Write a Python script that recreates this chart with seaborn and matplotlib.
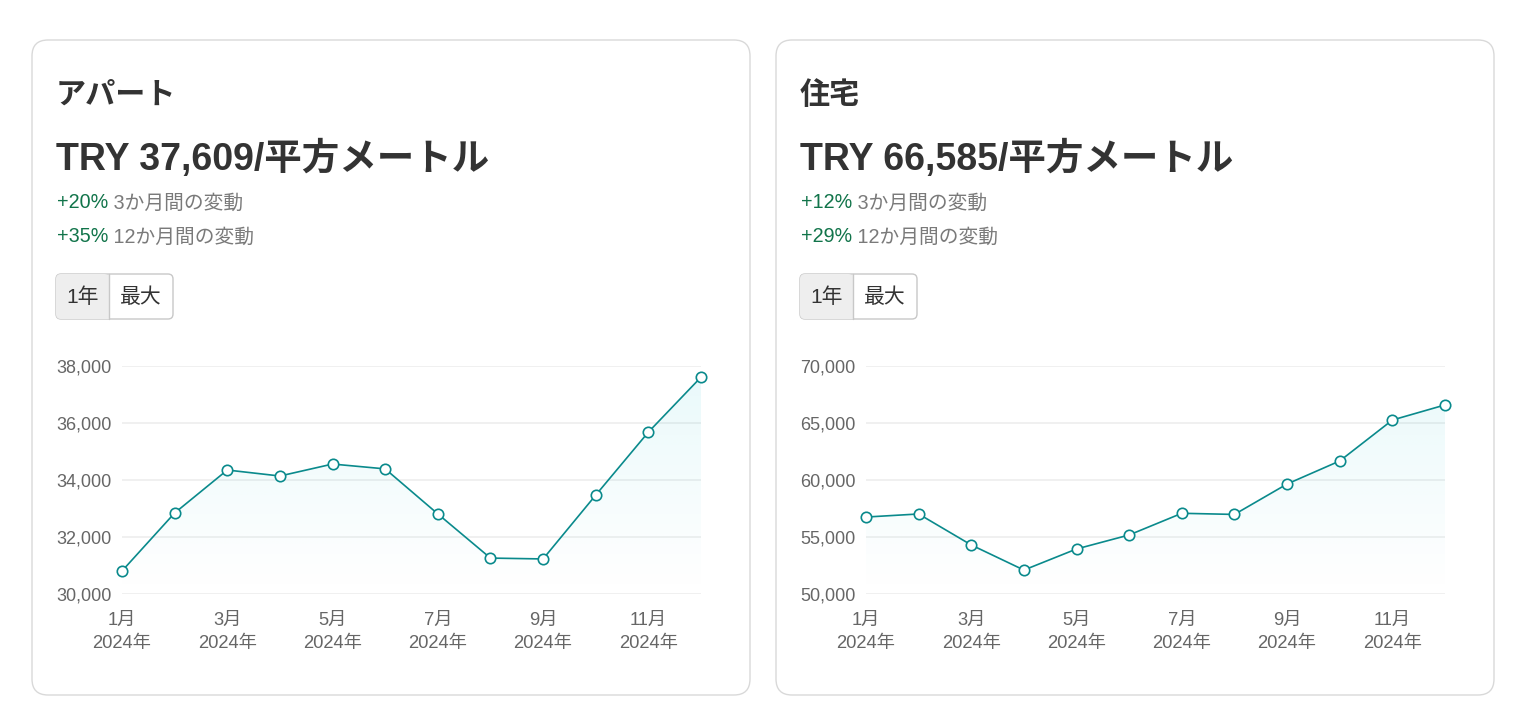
import numpy as np
import pandas as pd
import matplotlib
matplotlib.use("Agg")
import matplotlib.pyplot as plt
from matplotlib.patches import FancyBboxPatch, Rectangle
import seaborn as sns

# ---------------- data ----------------
months = ["1月", "2月", "3月", "4月", "5月", "6月", "7月", "8月", "9月", "10月", "11月", "12月"]
year_label = "2024年"
apartment_prices = [30807, 32842, 34350, 34140, 34560, 34390, 32810, 31260, 31230, 33470, 35680, 37609]
house_prices = [56750, 57020, 54300, 52100, 53950, 55180, 57080, 56980, 59650, 61670, 65260, 66585]

titles = ["アパート", "住宅"]
headline = ["TRY 37,609/平方メートル", "TRY 66,585/平方メートル"]
change_3m = ["+20%", "+12%"]
change_12m = ["+35%", "+29%"]
change_3m_text = "3か月間の変動"
change_12m_text = "12か月間の変動"
buttons = ["1年", "最大"]
apt_yticks = [30000, 32000, 34000, 36000, 38000]
house_yticks = [50000, 55000, 60000, 65000, 70000]

# ---------------- style ----------------
sns.set_theme(style="white")
FONTS = ["Liberation Sans", "Noto Sans CJK JP", "DejaVu Sans"]
plt.rcParams["font.family"] = FONTS

W, H = 1521, 723
fig = plt.figure(figsize=(W / 100, H / 100), dpi=100)
fig.patch.set_facecolor("white")

bg = fig.add_axes([0, 0, 1, 1])
bg.set_xlim(0, W)
bg.set_ylim(H, 0)
bg.axis("off")

TEAL = "#0a8a8c"
DARK = "#333333"
GREEN = "#11744a"
GRAY = "#7a7a7a"
TICK = "#666666"

def px_axes(x0, y0, x1, y1):
    return fig.add_axes([x0 / W, 1 - y1 / H, (x1 - x0) / W, (y1 - y0) / H])

datasets = [apartment_prices, house_prices]
yticks_list = [apt_yticks, house_yticks]

for i in range(2):
    off = 744 * i
    # card
    card = FancyBboxPatch((32 + off, 40), 718, 655,
                          boxstyle="round,pad=0,rounding_size=16",
                          fc="white", ec="#d9d9d9", lw=1.0, zorder=1)
    bg.add_patch(card)
    # title
    bg.text(56 + off, 95.5, titles[i], fontsize=21.7, fontweight="bold",
            color=DARK, va="center", ha="left", zorder=3)
    bg.text(56 + off, 159, headline[i], fontsize=27, fontweight="bold",
            color=DARK, va="center", ha="left", zorder=3)
    # change lines
    t1 = bg.text(57 + off, 203, change_3m[i], fontsize=14.2, color=GREEN,
                 va="center", ha="left", zorder=3)
    bg.annotate(" " + change_3m_text, xycoords=t1, xy=(1, 0.5), va="center",
                ha="left", fontsize=14.2, color=GRAY, zorder=3)
    t2 = bg.text(57 + off, 237, change_12m[i], fontsize=14.2, color=GREEN,
                 va="center", ha="left", zorder=3)
    bg.annotate(" " + change_12m_text, xycoords=t2, xy=(1, 0.5), va="center",
                ha="left", fontsize=14.2, color=GRAY, zorder=3)
    # buttons
    btn = FancyBboxPatch((56 + off, 274), 117, 45,
                         boxstyle="round,pad=0,rounding_size=5",
                         fc="white", ec="#c8c8c8", lw=1.0, zorder=2)
    bg.add_patch(btn)
    sel = FancyBboxPatch((56 + off, 274), 53, 45,
                         boxstyle="round,pad=0,rounding_size=5",
                         fc="#eeeeee", ec="none", lw=0, zorder=2.1)
    bg.add_patch(sel)
    bg.add_patch(Rectangle((100 + off, 274.5), 9, 44, fc="#eeeeee", ec="none", zorder=2.2))
    bg.plot([109 + off, 109 + off], [274, 319], color="#c8c8c8", lw=1.0, zorder=2.3)
    bg.text(83 + off, 297, buttons[0], fontsize=15, color=DARK, ha="center",
            va="center", zorder=3)
    bg.text(141 + off, 297, buttons[1], fontsize=15, color=DARK, ha="center",
            va="center", zorder=3)

    # chart
    ax = px_axes(122 + off, 366, 701 + off, 594)
    ax.set_facecolor("none")
    vals = datasets[i]
    yt = yticks_list[i]
    df = pd.DataFrame({"pos": np.arange(len(months)), "price": vals})
    ymin, ymax = yt[0], yt[-1]

    # gradient fill under the line
    grad = np.zeros((256, 2, 4))
    grad[:, :, :3] = np.array([0.0, 0.75, 0.8])
    grad[:, :, 3] = np.linspace(0.09, 0.0, 256)[:, None]
    poly = ax.fill_between(df["pos"], df["price"], ymin, color="none", lw=0)
    im = ax.imshow(grad, extent=[0, len(months) - 1, ymin, ymax], aspect="auto",
                   origin="upper", zorder=1, interpolation="bilinear")
    im.set_clip_path(poly.get_paths()[0], transform=ax.transData)

    for yv in yt:
        ax.axhline(yv, color="#ededed", lw=1.2, zorder=0.5)

    sns.lineplot(data=df, x="pos", y="price", ax=ax, color=TEAL, lw=1.2,
                 marker="o", markersize=7.5, markerfacecolor="white",
                 markeredgecolor=TEAL, markeredgewidth=1.2, zorder=3, clip_on=False)

    ax.set_xlim(0, len(months) - 1)
    ax.set_ylim(ymin, ymax)
    ax.set_xticks(df["pos"][::2])
    ax.set_xticklabels([f"{m}\n{year_label}" for m in months[::2]],
                       fontsize=13.2, color=TICK, linespacing=1.45)
    ax.set_yticks(yt)
    ax.set_yticklabels([f"{v:,}" for v in yt], fontsize=13, color=TICK)
    ax.tick_params(axis="both", length=0)
    ax.tick_params(axis="x", pad=13)
    ax.tick_params(axis="y", pad=7.5)
    ax.set_xlabel("")
    ax.set_ylabel("")
    for s in ax.spines.values():
        s.set_visible(False)
    ax.grid(False)

fig.savefig("out.png", dpi=100, facecolor="white")
